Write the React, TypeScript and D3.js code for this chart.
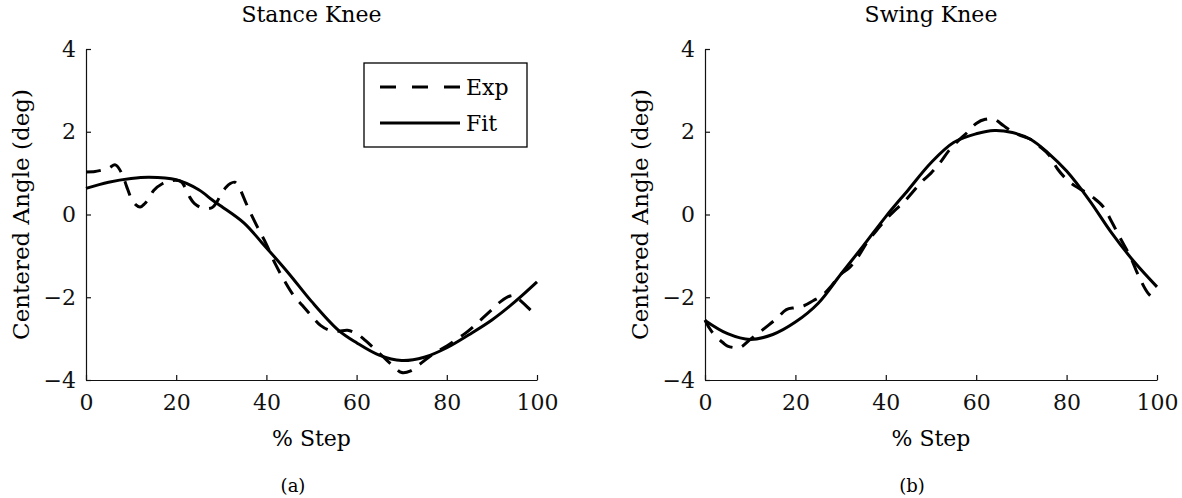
import React, { useEffect, useRef } from "react";
import * as d3 from "d3";

// % step samples and centered knee angles (deg)
const stanceExpX = [0, 2, 3, 5, 6.5, 8, 9, 10, 11, 12, 13, 14, 15, 17, 19, 21, 22, 23, 24, 26, 28, 29, 30, 31, 32, 33, 34, 35, 36, 38, 40, 42, 44, 46, 48, 50, 52, 54, 56, 58, 60, 62, 64, 66, 68, 70, 72, 74, 76, 78, 80, 82, 84, 86, 88, 90, 92, 94, 95, 96, 98, 100];
const stanceExp = [1.03, 1.04, 1.06, 1.12, 1.2, 0.98, 0.68, 0.4, 0.24, 0.18, 0.26, 0.4, 0.58, 0.75, 0.82, 0.8, 0.65, 0.42, 0.27, 0.15, 0.17, 0.3, 0.5, 0.65, 0.75, 0.78, 0.65, 0.4, 0.15, -0.3, -0.72, -1.2, -1.6, -1.95, -2.2, -2.45, -2.68, -2.8, -2.82, -2.8, -2.88, -3.05, -3.25, -3.45, -3.65, -3.82, -3.78, -3.62, -3.45, -3.3, -3.18, -3.03, -2.88, -2.7, -2.5, -2.3, -2.1, -1.97, -1.96, -2.05, -2.25, -2.47];

const stanceFitX = [0, 5, 10, 14, 20, 25, 28, 30, 35, 39, 45, 50, 56, 60, 65, 70, 75, 80, 85, 90, 95, 100];
const stanceFit = [0.63, 0.78, 0.87, 0.9, 0.84, 0.6, 0.35, 0.2, -0.2, -0.68, -1.43, -2.1, -2.8, -3.1, -3.4, -3.53, -3.45, -3.22, -2.9, -2.55, -2.12, -1.63];

const swingExpX = [0, 1, 2, 4, 5, 7, 8, 10, 12, 14, 16, 18, 20, 22, 24, 26, 28, 30, 32, 34, 36, 38, 40, 42, 44, 46, 48, 50, 52, 54, 56, 58, 60, 62, 64, 66, 68, 70, 72, 74, 76, 78, 80, 82, 84, 86, 88, 90, 92, 94, 96, 98, 100];
const swingExp = [-2.55, -2.75, -2.9, -3.1, -3.18, -3.22, -3.2, -3.02, -2.85, -2.68, -2.5, -2.3, -2.25, -2.2, -2.08, -1.95, -1.72, -1.45, -1.28, -1.0, -0.65, -0.38, -0.12, 0.1, 0.3, 0.55, 0.8, 1.0, 1.25, 1.55, 1.78, 1.98, 2.2, 2.3, 2.3, 2.15, 2.0, 1.9, 1.82, 1.65, 1.45, 1.1, 0.85, 0.68, 0.55, 0.4, 0.2, -0.18, -0.6, -1.0, -1.5, -1.9, -2.1];

const swingFitX = [0, 5, 10, 15, 20, 25, 30, 35, 40, 45, 50, 55, 60, 64, 68, 72, 76, 80, 85, 90, 95, 100];
const swingFit = [-2.56, -2.88, -3.02, -2.9, -2.6, -2.15, -1.45, -0.76, -0.05, 0.6, 1.25, 1.74, 1.95, 2.03, 1.98, 1.82, 1.48, 1.05, 0.35, -0.45, -1.15, -1.75];

const xTicks = [0, 20, 40, 60, 80, 100];
const yTicks = [-4, -2, 0, 2, 4];
const titles = ["Stance Knee", "Swing Knee"];
const captions = ["(a)", "(b)"];
const legendLabels = ["Exp", "Fit"];

// Liberation Serif falls back to a sans face here, DejaVu Serif is the real serif
const FONT = "DejaVu Serif";
const DASH = "15,10";

const App = () => {
  const ref = useRef<SVGSVGElement>(null);

  useEffect(() => {
    const svg = d3.select(ref.current);
    svg.selectAll("*").remove();

    const panels = [
      { left: 86, right: 537, expX: stanceExpX, exp: stanceExp, fitX: stanceFitX, fit: stanceFit, capX: 293, legend: true },
      { left: 705, right: 1157, expX: swingExpX, exp: swingExp, fitX: swingFitX, fit: swingFit, capX: 912, legend: false },
    ];
    const top = 49;
    const bottom = 380;

    panels.forEach((p, i) => {
      const x = d3.scaleLinear().domain([0, 100]).range([p.left, p.right]);
      const y = d3.scaleLinear().domain([-4, 4]).range([bottom, top]);
      const g = svg.append("g");

      // axes, ticks pointing in
      const xAxis = g.append("g")
        .attr("transform", `translate(0,${bottom})`)
        .call(d3.axisBottom(x).tickValues(xTicks).tickSizeInner(-5).tickSizeOuter(0).tickPadding(14).tickFormat(d3.format("d")));
      const yAxis = g.append("g")
        .attr("transform", `translate(${p.left},0)`)
        .call(d3.axisLeft(y).tickValues(yTicks).tickSizeInner(-5).tickSizeOuter(0).tickPadding(10)
          .tickFormat((d: any) => (d < 0 ? "\u2212" + Math.abs(d) : String(d))));
      [xAxis, yAxis].forEach((a) => {
        a.attr("font-family", null);
        a.selectAll("path, line").attr("stroke", "#111").attr("stroke-width", 1.2);
        a.selectAll("text").style("font-family", FONT).attr("font-size", 22).attr("fill", "#111");
      });
      xAxis.selectAll("text").attr("dy", "0.71em");

      const line = d3.line<[number, number]>()
        .x((d) => x(d[0]))
        .y((d) => y(d[1]))
        .curve(d3.curveCatmullRom);

      g.append("path")
        .datum(p.fitX.map((v, k) => [v, p.fit[k]] as [number, number]))
        .attr("d", line)
        .attr("fill", "none")
        .attr("stroke", "#000")
        .attr("stroke-width", 3);

      g.append("path")
        .datum(p.expX.map((v, k) => [v, p.exp[k]] as [number, number]))
        .attr("d", line)
        .attr("fill", "none")
        .attr("stroke", "#000")
        .attr("stroke-width", 3)
        .attr("stroke-dasharray", DASH);

      // labels
      const cx = (p.left + p.right) / 2;
      g.append("text").attr("x", cx).attr("y", 22).attr("text-anchor", "middle")
        .style("font-family", FONT).attr("font-size", 22).text(titles[i]);
      g.append("text").attr("x", cx).attr("y", 446).attr("text-anchor", "middle")
        .style("font-family", FONT).attr("font-size", 22).text("% Step");
      g.append("text")
        .attr("transform", `translate(${p.left - 57},${(top + bottom) / 2}) rotate(-90)`)
        .attr("text-anchor", "middle")
        .style("font-family", FONT).attr("font-size", 23).text("Centered Angle (deg)");
      g.append("text").attr("x", p.capX).attr("y", 492).attr("text-anchor", "middle")
        .style("font-family", FONT).attr("font-size", 18).text(captions[i]);

      if (p.legend) {
        const lg = g.append("g");
        lg.append("rect").attr("x", 364).attr("y", 63).attr("width", 163).attr("height", 84)
          .attr("fill", "#fff").attr("stroke", "#000").attr("stroke-width", 1.3);
        legendLabels.forEach((lab, k) => {
          const ly = 87 + k * 36;
          lg.append("line").attr("x1", 380).attr("x2", 460).attr("y1", ly).attr("y2", ly)
            .attr("stroke", "#000").attr("stroke-width", 3)
            .attr("stroke-dasharray", k === 0 ? "16,16" : null);
          lg.append("text").attr("x", 466).attr("y", ly + 8)
            .style("font-family", FONT).attr("font-size", 22).text(lab);
        });
      }
    });
  }, []);

  return (
    <div style={{ position: "absolute", left: 0, top: 0, background: "#fff" }}>
      <svg ref={ref} width={1182} height={498}></svg>
    </div>
  );
};

export default App;
